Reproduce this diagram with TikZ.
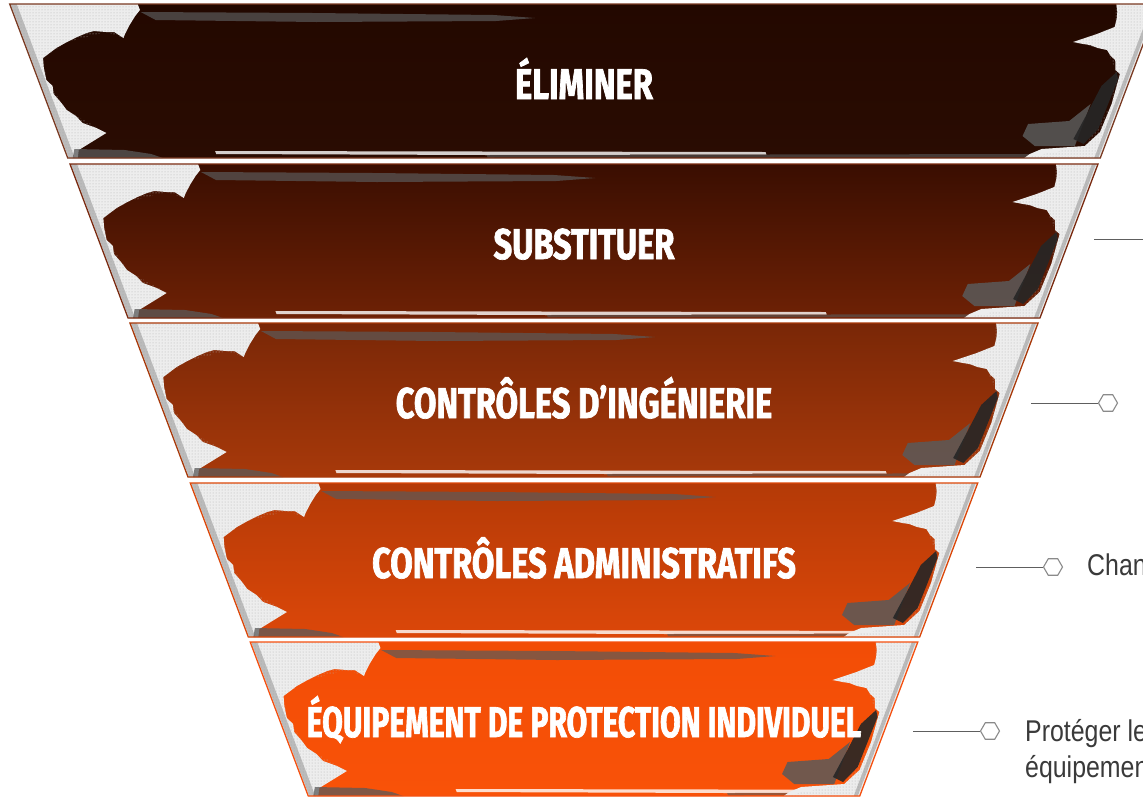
\documentclass[tikz,border=0pt]{standalone}
\usepackage{fontspec}
\usepackage{graphicx}
\usetikzlibrary{shapes.geometric,patterns}
\newfontfamily\ttlfont[FakeStretch=0.76,BoldFeatures={FakeBold=1.6}]{Fira Sans}
\newfontfamily\descfont[FakeStretch=0.83]{Liberation Sans}
\definecolor{bAT}{HTML}{230800}\definecolor{bAB}{HTML}{2A0C02}\definecolor{bAO}{HTML}{7A3A22}
\definecolor{bBT}{HTML}{3A0E01}\definecolor{bBB}{HTML}{6E2105}\definecolor{bBO}{HTML}{7A2A10}
\definecolor{bCT}{HTML}{792707}\definecolor{bCB}{HTML}{A8390A}\definecolor{bCO}{HTML}{A8390A}
\definecolor{bDT}{HTML}{B43A07}\definecolor{bDB}{HTML}{DC4709}\definecolor{bDO}{HTML}{DC4709}
\definecolor{bET}{HTML}{F24D06}\definecolor{bEB}{HTML}{F95208}\definecolor{bEO}{HTML}{F55010}
\definecolor{grungewhite}{HTML}{EDEDED}
\definecolor{streakgray}{HTML}{5A5A5A}
\definecolor{edgegray}{HTML}{9A9A9A}
\definecolor{hexgray}{HTML}{8A8A8A}
\definecolor{conngray}{HTML}{5E5E5E}
\definecolor{descgray}{HTML}{3A3A3A}
\tikzset{
  lbl/.style={text=white, font=\ttlfont\bfseries\fontsize{43}{43}\selectfont, anchor=base, inner sep=0pt},
  desc/.style={text=descgray, font=\descfont\fontsize{30}{36}\selectfont, anchor=base west, inner sep=0pt},
  hexmark/.style={regular polygon, regular polygon sides=6, minimum size=19pt, inner sep=0pt, draw=hexgray, line width=1.1pt, fill=white},
  conn/.style={draw=conngray, line width=1pt},
  grunge/.style={fill=grungewhite},
  speckle/.style={pattern=dots, pattern color=black!30},
  bandedge/.style={line width=1.3pt, line join=miter},
}
\newcommand\drawband[6]{%
  \pgfmathsetmacro\xl{70+0.377*(#1-164)}%
  \pgfmathsetmacro\xr{1098-0.377*(#1-164)}%
  \pgfmathsetmacro\xlb{\xl+58.06}%
  \pgfmathsetmacro\xrb{\xr-58.06}%
  \pgfmathsetmacro\yb{#1+154}%
  \shade[top color=#2,bottom color=#3] (\xl,#1) -- (\xr,#1) -- (\xrb,\yb) -- (\xlb,\yb) -- cycle;
  \begin{scope}
    \clip (\xl,#1) -- (\xr,#1) -- (\xrb,\yb) -- (\xlb,\yb) -- cycle;
    % left grunge
    \begin{scope}[shift={(\xl,#1)},xslant=-0.377]
      \fill[grunge] (0,0) -- (128,0) -- (128,6) -- (121,12) -- (112,21) -- (104,30) -- (101,34) -- (94,28) -- (86,28) -- (74,27) -- (66,29) -- (55,33) -- (43,38)
        -- (30,44) -- (13,54) -- (10,64) -- (8,76) -- (12,82) -- (10,90) -- (14,98) -- (17,106) -- (24,112) -- (28,119) -- (40,124) -- (48,129) -- (38,134) -- (28,139) -- (14,146)
        -- (10,154) -- (0,154) -- cycle;
      \fill[speckle] (0,0) -- (128,0) -- (112,21) -- (101,34) -- (86,28) -- (43,38) -- (13,54) -- (8,76) -- (17,106) -- (48,129) -- (14,146) -- (10,154) -- (0,154) -- cycle;
      \fill[edgegray,opacity=0.6] (1,0) -- (7,0) -- (7,154) -- (1,154) -- cycle;
      \fill[streakgray,opacity=0.75] (10,145) -- (60,146) -- (85,150) -- (95,154) -- (5,154) -- cycle;
      \fill[streakgray,opacity=0.7] (128,8) -- (300,9) -- (480,11) -- (520,14) -- (480,17) -- (300,18) -- (140,16) -- cycle;
      \fill[white,opacity=0.8] (150,147) -- (420,147.5) -- (700,148) -- (700,150.5) -- (420,151) -- (150,150) -- cycle;
      \fill[streakgray,opacity=0.6] (420,151) -- (980,150) -- (980,153) -- (420,153.5) -- cycle;
    \end{scope}
    % right grunge
    \begin{scope}[shift={(\xr,#1)},xslant=0.377]
      \fill[grunge] (0,0) -- (-42,0) -- (-40,4) -- (-38,8) -- (-36,15) -- (-35,23) -- (-50,30) -- (-71,38) -- (-60,40) -- (-53,41) -- (-44,44) -- (-34,46) -- (-28,52) -- (-22,56)
        -- (-18,66) -- (-12,70) -- (-9,100) -- (-10,128) -- (-20,142) -- (-62,145) -- (-72,150)
        -- (-76,154) -- (0,154) -- cycle;
      \fill[speckle] (0,0) -- (-42,0) -- (-35,23) -- (-71,38) -- (-34,46) -- (-18,66) -- (-9,100) -- (-20,142) -- (-76,154) -- (0,154) -- cycle;
      \fill[streakgray,opacity=0.85] (-30,100) -- (-45,117) -- (-85,120) -- (-86,132) -- (-70,142) -- (-30,142) -- cycle;
      \fill[black!85,opacity=0.9] (-16,68) -- (-26,82) -- (-30,110) -- (-34,135) -- (-22,140) -- (-13,125) -- (-12,75) -- cycle;
      \fill[edgegray,opacity=0.6] (-2,0) -- (-6,0) -- (-6,154) -- (-2,154) -- cycle;
    \end{scope}
  \end{scope}
  \draw[#4,bandedge] (\xl,#1) -- (\xr,#1) -- (\xrb,\yb) -- (\xlb,\yb) -- cycle;
  \node[lbl] (#6) at (584,{#1+95}) {#5};
}
\begin{document}
\begin{tikzpicture}[x=1pt,y=-1pt]
  \useasboundingbox (0,0) rectangle (1143,796);
  \clip (0,0) rectangle (1143,796);
  \fill[white] (0,0) rectangle (1143,796);
  \drawband{4}{bAT}{bAB}{bAO}{ÉLIMINER}{l1}
  \drawband{164}{bBT}{bBB}{bBO}{SUBSTITUER}{l2}
  \drawband{323}{bCT}{bCB}{bCO}{CONTRÔLES D’INGÉNIERIE}{l3}
  \drawband{483}{bDT}{bDB}{bDO}{CONTRÔLES ADMINISTRATIFS}{l4}
  \drawband{642}{bET}{bEB}{bEO}{\scalebox{0.92}[1]{ÉQUIPEMENT DE PROTECTION INDIVIDUEL}}{l5}
  % connectors
  \coordinate (c2) at (1094,239);
  \coordinate (e2) at (1143,239);
  \draw[conn] (c2) -- (e2);
  \coordinate (c3) at (1031,403);
  \node[hexmark] (h3) at (1108,403) {};
  \draw[conn] (c3) -- (h3);
  \coordinate (c4) at (976,567);
  \node[hexmark] (h4) at (1053,567) {};
  \draw[conn] (c4) -- (h4);
  \node[desc] (t4) at (1087,575) {Chan};
  \coordinate (c5) at (913,731);
  \node[hexmark] (h5) at (990,731) {};
  \draw[conn] (c5) -- (h5);
  \node[desc] (t5a) at (1025,741) {Protéger le};
  \node[desc] (t5b) at (1025,777) {équipemen};
\end{tikzpicture}
\end{document}
